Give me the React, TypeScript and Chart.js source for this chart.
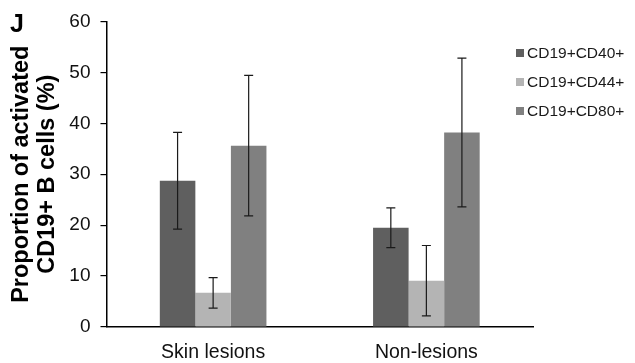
import React, { useEffect, useRef } from "react";
import { Chart, registerables } from "chart.js";

Chart.register(...registerables);

const categories = ["Skin lesions", "Non-lesions"];
const seriesNames = ["CD19+CD40+", "CD19+CD44+", "CD19+CD80+"];
const cd40 = [28.7, 19.5];
const cd44 = [6.7, 9.1];
const cd80 = [35.6, 38.2];
const cd40Err = [9.5, 3.9];
const cd44Err = [3.0, 6.9];
const cd80Err = [13.8, 14.6];
const yTicks = [0, 10, 20, 30, 40, 50, 60];
const colors = ["#5f5f5f", "#b4b4b4", "#808080"];
const FONT = "'Liberation Sans', Arial, sans-serif";

const errorBarPlugin = {
  id: "errorBars",
  afterDatasetsDraw(chart: any) {
    const ctx = chart.ctx;
    const y = chart.scales.y;
    ctx.save();
    ctx.strokeStyle = "#1a1a1a";
    ctx.lineWidth = 1.2;
    chart.data.datasets.forEach((ds: any, i: number) => {
      const meta = chart.getDatasetMeta(i);
      meta.data.forEach((bar: any, j: number) => {
        const v = ds.data[j];
        const e = ds.errors[j];
        const yHi = y.getPixelForValue(v + e);
        const yLo = y.getPixelForValue(v - e);
        const x = bar.x;
        const cap = 4.5;
        ctx.beginPath();
        ctx.moveTo(x, yHi);
        ctx.lineTo(x, yLo);
        ctx.moveTo(x - cap, yHi);
        ctx.lineTo(x + cap, yHi);
        ctx.moveTo(x - cap, yLo);
        ctx.lineTo(x + cap, yLo);
        ctx.stroke();
      });
    });
    ctx.restore();
  },
};

const decorPlugin = {
  id: "decor",
  afterDraw(chart: any) {
    const ctx = chart.ctx;
    ctx.save();
    // panel letter
    ctx.fillStyle = "#000";
    ctx.font = `bold 25px ${FONT}`;
    ctx.textBaseline = "alphabetic";
    ctx.textAlign = "left";
    ctx.fillText("J", 10, 32);
    // legend
    ctx.font = `15.5px ${FONT}`;
    ctx.textBaseline = "middle";
    const rows = [53, 82, 111];
    seriesNames.forEach((name, i) => {
      ctx.fillStyle = colors[i];
      ctx.fillRect(516, rows[i] - 4, 8, 8);
      ctx.fillStyle = "#1a1a1a";
      ctx.fillText(name, 527, rows[i] + 1);
    });
    ctx.restore();
  },
};

export default function App() {
  const ref = useRef<HTMLCanvasElement>(null);
  useEffect(() => {
    document.body.style.margin = "0";
    const datasets = [cd40, cd44, cd80].map((d, i) => ({
      label: seriesNames[i],
      data: d,
      errors: [cd40Err, cd44Err, cd80Err][i],
      backgroundColor: colors[i],
      borderWidth: 0,
      categoryPercentage: 0.5,
      barPercentage: 1.0,
    }));
    const chart = new Chart(ref.current as HTMLCanvasElement, {
      type: "bar",
      data: { labels: categories, datasets: datasets as any },
      options: {
        animation: false,
        responsive: false,
        devicePixelRatio: 1,
        layout: { padding: { left: 0, top: 16, right: 102, bottom: 0 } },
        plugins: {
          legend: { display: false },
          tooltip: { enabled: false },
        },
        scales: {
          x: {
            grid: { display: false, drawTicks: false },
            border: { display: true, color: "#000", width: 1.5 },
            ticks: {
              color: "#111",
              font: { family: FONT, size: 19.5 },
              padding: 14,
            },
            afterFit: (s: any) => {
              s.height = 36;
            },
          },
          y: {
            min: 0,
            max: 60,
            afterBuildTicks: (s: any) => {
              s.ticks = yTicks.map((v) => ({ value: v }));
            },
            grid: {
              display: true,
              drawOnChartArea: false,
              drawTicks: true,
              tickLength: 6,
              color: "#000",
              lineWidth: 1.2,
            },
            border: { display: true, color: "#000", width: 1.5 },
            ticks: {
              color: "#111",
              font: { family: FONT, size: 19 },
              padding: 10,
            },
            title: {
              display: true,
              text: ["Proportion of activated", "CD19+ B cells (%)"],
              color: "#000",
              font: { family: FONT, size: 23.5, weight: "bold", lineHeight: 1.1 },
              padding: { top: 8.5, bottom: 0 },
            },
            afterFit: (s: any) => {
              s.width = 106.5;
            },
          },
        },
      },
      plugins: [errorBarPlugin, decorPlugin],
    } as any);
    return () => chart.destroy();
  }, []);
  return (
    <div style={{ position: "absolute", left: 0, top: 0, width: 635, height: 363, background: "#fff" }}>
      <canvas ref={ref} width={635} height={363} />
    </div>
  );
}
